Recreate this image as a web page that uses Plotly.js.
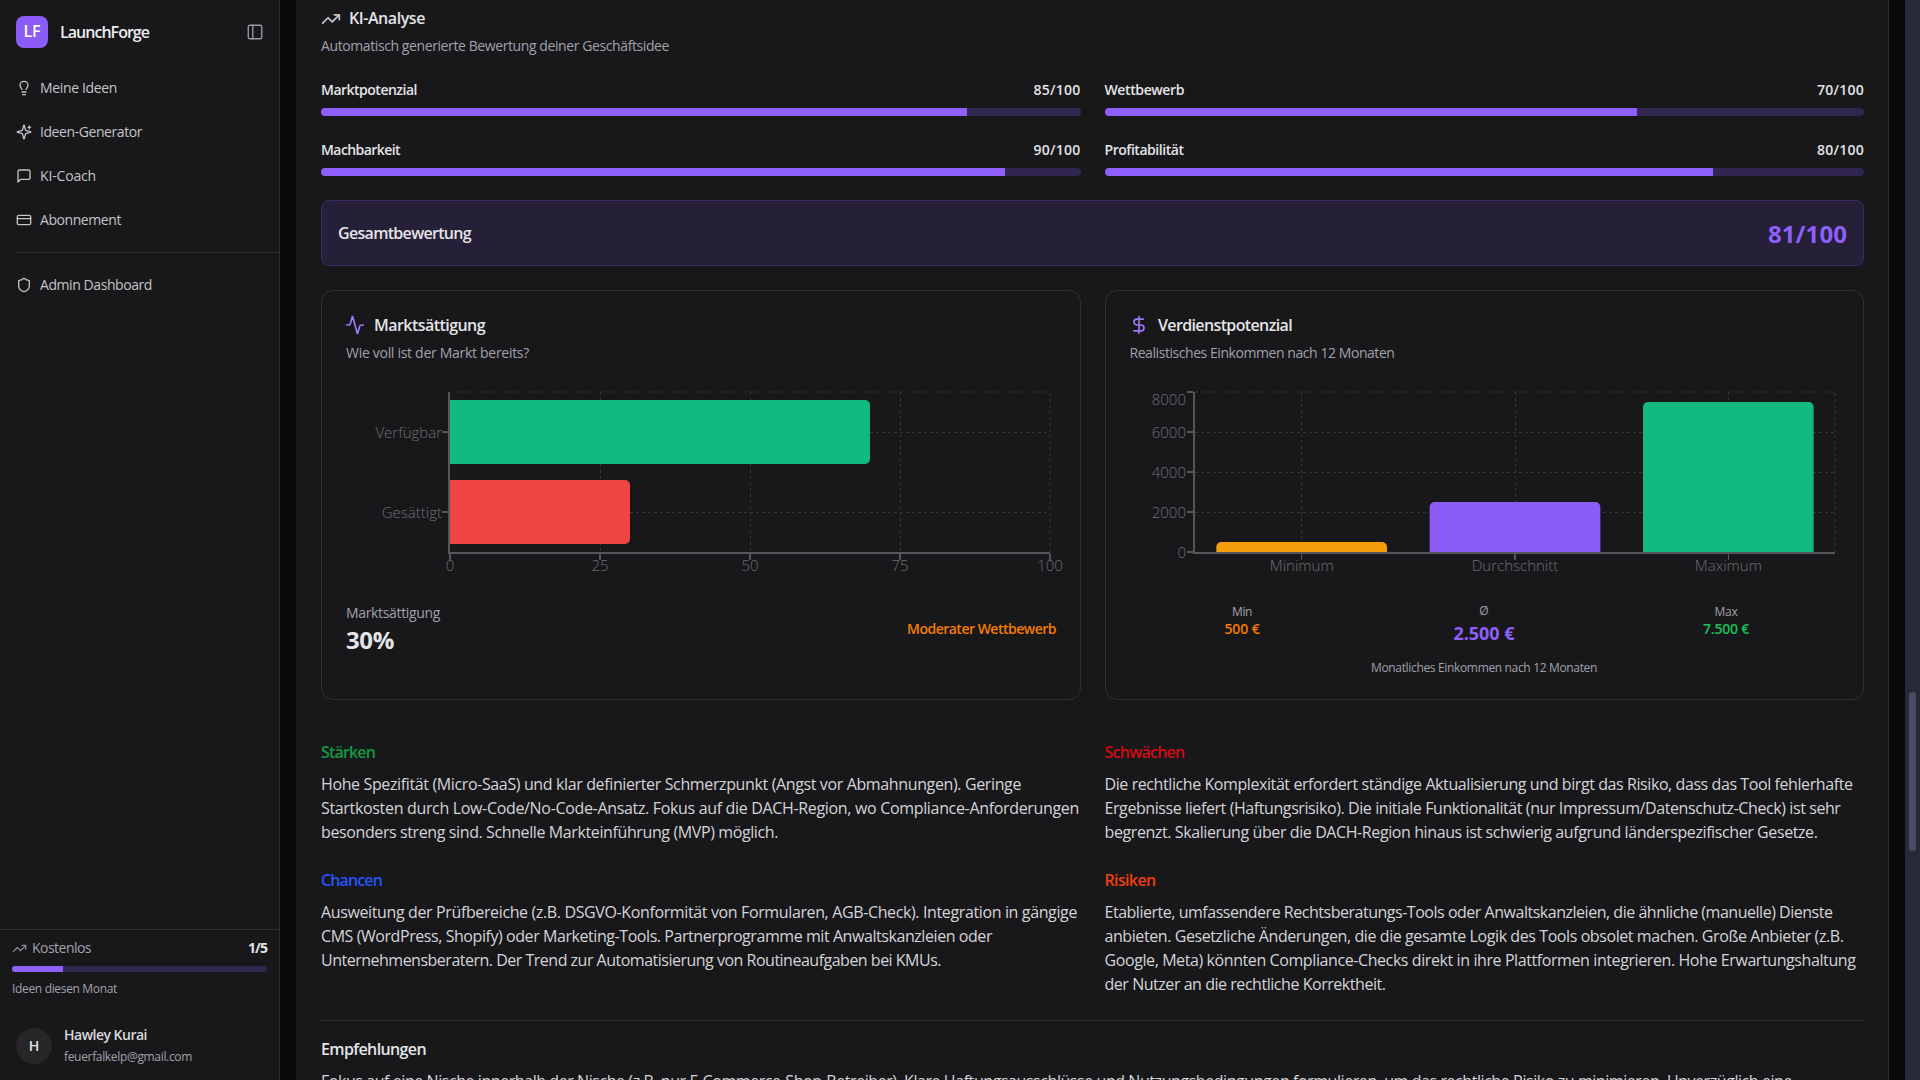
<!DOCTYPE html>
<html lang="de"><head><meta charset="utf-8"><title>LaunchForge</title>
<script src="https://cdn.plot.ly/plotly-3.0.1.min.js"></script>
<style>
html,body{margin:0;padding:0;width:1920px;height:1080px;overflow:hidden;background:#09090b;font-family:"Open Sans",sans-serif}
#main{position:absolute;left:296px;top:0;width:1592px;height:1080px;background:#18181b;border-right:1px solid #2c2c30;box-sizing:content-box}
#side{position:absolute;left:0;top:0;width:279px;height:1080px;background:#18181b;border-right:1px solid #2c2c30}
.t{position:absolute;white-space:nowrap;line-height:1;transform:translateY(-50%)}
.b{position:absolute;box-sizing:border-box}
svg.i{position:absolute;fill:none;stroke-linecap:round;stroke-linejoin:round}
.p{position:absolute;overflow:hidden}
</style></head><body>
<div id="side"></div><div id="main"></div>
<div class="b" style="left:1905px;top:0;width:15px;height:1080px;background:#262a36"></div>
<div class="b" style="left:1909px;top:692px;width:7px;height:159px;background:#4a4a63;border-radius:3px"></div>
<div id="layer"></div>
<div id="chartSat" style="position:absolute;left:351px;top:380px;width:730px;height:200px"></div>
<div id="chartInc" style="position:absolute;left:1099.500px;top:380px;width:745px;height:200px"></div>
<script>
// ---- chart data ----
const saturationCats = ['Verfügbar','Gesättigt'];
const saturationVals = [70,30];
const saturationTicks = [0,25,50,75,100];
const incomeCats = ['Minimum','Durchschnitt','Maximum'];
const incomeVals = [500,2500,7500];
const incomeTicks = [0,2000,4000,6000,8000];
const scoreLabels = ['Marktpotenzial','Wettbewerb','Machbarkeit','Profitabilität'];
const scoreValues = [85,70,90,80];
const scoreMax = 100;
const usageUsed = 1;
const usageMax = 5;

// ---- styling ----
const PURPLE='#8f5ffa', TRACK='#31264f', GRID='#333338', AX='#55555a', TICK='#6e6e73';
const FONT='"Open Sans",sans-serif';
const layer=document.getElementById('layer');

function T(x,cy,text,o={}){
  const s=document.createElement('span');s.className='t';s.textContent=text;
  s.style.fontSize=(o.size||14)+'px';s.style.fontWeight=o.weight||400;s.style.color=o.color||'#e4e4e7';
  s.style.top=(cy-((o.size||14)>=16?1:0))+'px';
  layer.appendChild(s);
  const w=s.getBoundingClientRect().width;
  if(o.w){s.style.letterSpacing=((o.w-w)/text.length)+'px';}
  const W=o.w||w;
  if(o.align==='r')s.style.left=(x-W)+'px';
  else if(o.align==='c')s.style.left=(x-W/2)+'px';
  else s.style.left=x+'px';
}
function box(x,y,w,h,css){const d=document.createElement('div');d.className='b';d.style.cssText+=`left:${x}px;top:${y}px;width:${w}px;height:${h}px;${css}`;layer.appendChild(d);return d;}
function icon(x,y,size,color,inner,sw){
  const ns='http://www.w3.org/2000/svg';const s=document.createElementNS(ns,'svg');
  s.setAttribute('class','i');s.setAttribute('viewBox','0 0 24 24');s.setAttribute('width',size);s.setAttribute('height',size);
  s.style.left=x+'px';s.style.top=y+'px';s.style.stroke=color;s.style.strokeWidth=sw||2;s.innerHTML=inner;layer.appendChild(s);
}
const IC={
 bulb:'<path d="M15 14c.2-1 .7-1.7 1.5-2.5 1-.9 1.5-2.2 1.5-3.5A6 6 0 0 0 6 8c0 1 .2 2.2 1.5 3.5.7.7 1.3 1.5 1.5 2.5"/><path d="M9 18h6"/><path d="M10 22h4"/>',
 spark:'<path d="M9.9 15.5A2 2 0 0 0 8.5 14.1l-6.1-1.6a.5.5 0 0 1 0-1l6.1-1.6a2 2 0 0 0 1.4-1.4l1.6-6.1a.5.5 0 0 1 1 0l1.6 6.1a2 2 0 0 0 1.4 1.4l6.1 1.6a.5.5 0 0 1 0 1l-6.1 1.6a2 2 0 0 0-1.4 1.4l-1.6 6.1a.5.5 0 0 1-1 0z"/><path d="M20 3v4"/><path d="M22 5h-4"/>',
 msg:'<path d="M21 15a2 2 0 0 1-2 2H7l-4 4V5a2 2 0 0 1 2-2h14a2 2 0 0 1 2 2z"/>',
 card:'<rect width="20" height="14" x="2" y="5" rx="2"/><line x1="2" x2="22" y1="10" y2="10"/>',
 shield:'<path d="M20 13c0 5-3.5 7.5-7.7 9a1 1 0 0 1-.6 0C7.500 20.500 4 18 4 13V6a1 1 0 0 1 1-1c2 0 4.500-1.200 6.200-2.700a1.200 1.200 0 0 1 1.600 0C14.500 3.800 17 5 19 5a1 1 0 0 1 1 1z"/>',
 trend:'<polyline points="22 7 13.500 15.500 8.500 10.500 2 17"/><polyline points="16 7 22 7 22 13"/>',
 act:'<path d="M22 12h-2.500a2 2 0 0 0-1.900 1.500l-2.400 8.400a.25.25 0 0 1-.5 0L9.200 2.100a.25.25 0 0 0-.5 0l-2.300 8.400A2 2 0 0 1 4.500 12H2"/>',
 dollar:'<line x1="12" x2="12" y1="2" y2="22"/><path d="M17 5H9.500a3.500 3.500 0 0 0 0 7h5a3.500 3.500 0 0 1 0 7H6"/>',
 panel:'<rect width="18" height="18" x="3" y="3" rx="2"/><path d="M9 3v18"/>'
};
const SB='#c4c4c8';
const RX=1104.5;
// sidebar
box(16,16,32,32,'background:#8b5cf6;border-radius:8px');
T(32,32,'LF',{size:16,weight:600,color:'#fff',align:'c',w:17});
T(60,33,'LaunchForge',{size:16,weight:600,w:89,color:'#ececee'});
icon(246,23,18,'#9a9aa0',IC.panel,1.8);
icon(16,80,16,SB,IC.bulb);T(40,88,'Meine Ideen',{w:77,color:SB});
icon(16,124,16,SB,IC.spark);T(40,132,'Ideen-Generator',{w:102,color:SB});
icon(16,168,16,SB,IC.msg);T(40,176,'KI-Coach',{w:56,color:SB});
icon(16,212,16,SB,IC.card);T(40,220,'Abonnement',{w:81,color:SB});
box(16,252,264,1,'background:#2e2e33');
icon(16,277,16,SB,IC.shield);T(40,285,'Admin Dashboard',{w:112,color:SB});
box(0,929,279,1,'background:#2e2e33');
icon(12,941,15,'#8a8a90',IC.trend);T(32,948,'Kostenlos',{w:59,color:'#a1a1aa'});
T(267,948,usageUsed+'/'+usageMax,{weight:700,align:'r',w:19,color:'#e4e4e7'});
T(12,989,'Ideen diesen Monat',{size:12,w:105,color:'#a1a1aa'});
box(16,1028,36,36,'background:#27272a;border-radius:50%');
T(34,1046,'H',{size:14,weight:600,align:'c'});
T(64,1035,'Hawley Kurai',{weight:600,w:83,color:'#d8d8dc'});
T(64,1057,'feuerfalkelp@gmail.com',{size:12,w:128,color:'#a1a1aa'});
// header
icon(321,9,20,'#c8c8cc',IC.trend);T(349,19,'KI-Analyse',{size:16,weight:600,w:76,color:'#e4e4e7'});
T(321,46,'Automatisch generierte Bewertung deiner Geschäftsidee',{w:348,color:'#a1a1aa'});
// score rows
const scoreLayout=[[321,90],[RX,90],[321,150],[RX,150]];
const scoreW=[96,79.5,79,79];
scoreLabels.forEach((l,i)=>{const [x,y]=scoreLayout[i];
  T(x,y,l,{weight:600,w:scoreW[i]});
  T(x+759.5,y,scoreValues[i]+'/'+scoreMax,{weight:600,align:'r',w:47});
});
// total
box(321,200,1543,66,'background:#261f38;border:1px solid #3a2b66;border-radius:8px');
T(338,234,'Gesamtbewertung',{size:16,weight:600,w:133});
T(1847,235,'81/100',{size:24,weight:700,align:'r',w:79,color:PURPLE});
// chart cards
box(321,290,759.5,410,'border:1px solid #2e2e33;border-radius:12px');
box(RX,290,759.5,410,'border:1px solid #2e2e33;border-radius:12px');
icon(345,315,20,'#9d78f8',IC.act);T(374,326,'Marktsättigung',{size:16,weight:600,w:111});
T(346,353,'Wie voll ist der Markt bereits?',{w:183,color:'#a1a1aa'});
T(346,613,'Marktsättigung',{w:94,color:'#a1a1aa'});
T(346,641,'30%',{size:24,weight:700,w:48});
T(1056,629,'Moderater Wettbewerb',{weight:600,align:'r',w:149,color:'#f57c00'});
icon(1129,315,20,'#9d78f8',IC.dollar);T(1158,326,'Verdienstpotenzial',{size:16,weight:600,w:134});
T(1129.5,353,'Realistisches Einkommen nach 12 Monaten',{w:265,color:'#a1a1aa'});
T(1242,612,'Min',{size:12,align:'c',w:20,color:'#a1a1aa'});
T(1242,629,'500 €',{weight:600,align:'c',w:35,color:'#f57c00'});
T(1484,611,'Ø',{size:12,align:'c',color:'#a1a1aa'});
T(1484,634,'2.500 €',{size:18,weight:700,align:'c',w:61,color:PURPLE});
T(1726,612,'Max',{size:12,align:'c',w:23,color:'#a1a1aa'});
T(1726,629,'7.500 €',{weight:600,align:'c',w:46,color:'#16c25a'});
T(1484,668,'Monatliches Einkommen nach 12 Monaten',{size:12,align:'c',w:226,color:'#a1a1aa'});
// text sections
const BODY='#d4d4d8';
function sec(x,y,head,hc,hw,lines){T(x,y,head,{size:16,weight:600,w:hw,color:hc});
  lines.forEach((l,i)=>T(x,y+32+24*i,l[0],{size:16,w:l[1],color:BODY}));}
sec(321,753,'Stärken','#129a40',54,[['Hohe Spezifität (Micro-SaaS) und klar definierter Schmerzpunkt (Angst vor Abmahnungen). Geringe',700],['Startkosten durch Low-Code/No-Code-Ansatz. Fokus auf die DACH-Region, wo Compliance-Anforderungen',758],['besonders streng sind. Schnelle Markteinführung (MVP) möglich.',457]]);
sec(321,881,'Chancen','#2354f5',61,[['Ausweitung der Prüfbereiche (z.B. DSGVO-Konformität von Formularen, AGB-Check). Integration in gängige',756],['CMS (WordPress, Shopify) oder Marketing-Tools. Partnerprogramme mit Anwaltskanzleien oder',671],['Unternehmensberatern. Der Trend zur Automatisierung von Routineaufgaben bei KMUs.',620]]);
sec(RX,753,'Schwächen','#d40a12',80,[['Die rechtliche Komplexität erfordert ständige Aktualisierung und birgt das Risiko, dass das Tool fehlerhafte',748],['Ergebnisse liefert (Haftungsrisiko). Die initiale Funktionalität (nur Impressum/Datenschutz-Check) ist sehr',736],['begrenzt. Skalierung über die DACH-Region hinaus ist schwierig aufgrund länderspezifischer Gesetze.',713]]);
sec(RX,881,'Risiken','#f0400a',51,[['Etablierte, umfassendere Rechtsberatungs-Tools oder Anwaltskanzleien, die ähnliche (manuelle) Dienste',728],['anbieten. Gesetzliche Änderungen, die die gesamte Logik des Tools obsolet machen. Große Anbieter (z.B.',739],['Google, Meta) könnten Compliance-Checks direkt in ihre Plattformen integrieren. Hohe Erwartungshaltung',751],['der Nutzer an die rechtliche Korrektheit.',281]]);
box(321,1020,1543,1,'background:#2e2e33');
T(321,1050,'Empfehlungen',{size:16,weight:600,w:105});
T(321,1082,'Fokus auf eine Nische innerhalb der Nische (z.B. nur E-Commerce-Shop-Betreiber). Klare Haftungsausschlüsse und Nutzungsbedingungen formulieren, um das rechtliche Risiko zu minimieren. Unverzüglich eine',{size:16,w:1471,color:BODY});

// progress bars drawn by Plotly
function progress(x,y,w,h,val,max,rad){
  const d=document.createElement('div');d.className='p';
  d.style.cssText+=`left:${x}px;top:${y}px;width:${w}px;height:${h}px;border-radius:${rad}px`;
  layer.appendChild(d);
  Plotly.newPlot(d,[{type:'bar',orientation:'h',y:['v'],x:[val],marker:{color:PURPLE},hoverinfo:'skip'}],
   {width:w,height:h,margin:{l:0,r:0,t:0,b:0},paper_bgcolor:TRACK,plot_bgcolor:TRACK,bargap:0,showlegend:false,
    xaxis:{range:[0,max],visible:false,fixedrange:true},yaxis:{visible:false,fixedrange:true}},
   {staticPlot:true,displayModeBar:false});
}
const barPos=[[321,108],[RX,108],[321,168],[RX,168]];
scoreValues.forEach((v,i)=>progress(barPos[i][0],barPos[i][1],759.5,8,v,scoreMax,4));
progress(12,966,255,6,usageUsed,usageMax,3);

// charts
const tickFont={family:FONT,size:15,color:TICK,weight:300};
const axisBase={showline:true,linecolor:AX,linewidth:2,ticks:'outside',ticklen:6,tickwidth:1.5,tickcolor:AX,
  showgrid:true,gridcolor:GRID,gridwidth:1,griddash:'3px,3px',zeroline:false,tickfont:tickFont,fixedrange:true};
const edge=(x0,y0,x1,y1)=>({type:'line',xref:'paper',yref:'paper',x0,y0,x1,y1,layer:'below',line:{color:GRID,width:1,dash:'3px,3px'}});
const nudgeY=(gd)=>{gd.querySelectorAll('.ytick text').forEach(t=>{
    const d=t.textContent==='8000'?8:1; t.setAttribute('y',+t.getAttribute('y')+d);});};
Plotly.newPlot('chartSat',[{type:'bar',orientation:'h',y:saturationCats,x:saturationVals,
   marker:{color:['#10b981','#ef4444'],cornerradius:5},hoverinfo:'skip'}],
  {width:730,height:200,margin:{l:99,r:31,t:12,b:28},paper_bgcolor:'rgba(0,0,0,0)',plot_bgcolor:'rgba(0,0,0,0)',bargap:0.2,barcornerradius:5,showlegend:false,
   xaxis:{...axisBase,range:[0,100],tickvals:saturationTicks,ticklabelstandoff:-7},
   yaxis:{...axisBase,type:'category',range:[1.5,-0.5],ticklabelstandoff:-3},
   shapes:[edge(0,1,1,1),edge(1,0,1,1)]},
  {staticPlot:true,displayModeBar:false}).then(nudgeY);
Plotly.newPlot('chartInc',[{type:'bar',x:incomeCats,y:incomeVals,
   marker:{color:['#f59e0b','#8b5cf6','#10b981'],cornerradius:5},hoverinfo:'skip'}],
  {width:745,height:200,margin:{l:95,r:10,t:12,b:28},paper_bgcolor:'rgba(0,0,0,0)',plot_bgcolor:'rgba(0,0,0,0)',bargap:0.2,barcornerradius:5,showlegend:false,
   xaxis:{...axisBase,type:'category',range:[-0.5,2.5],ticklabelstandoff:-7},
   yaxis:{...axisBase,range:[0,8000],tickvals:incomeTicks,tickformat:'d',ticklabelstandoff:-2},
   shapes:[edge(0,1,1,1),edge(1,0,1,1)]},
  {staticPlot:true,displayModeBar:false}).then(nudgeY);
</script></body></html>
